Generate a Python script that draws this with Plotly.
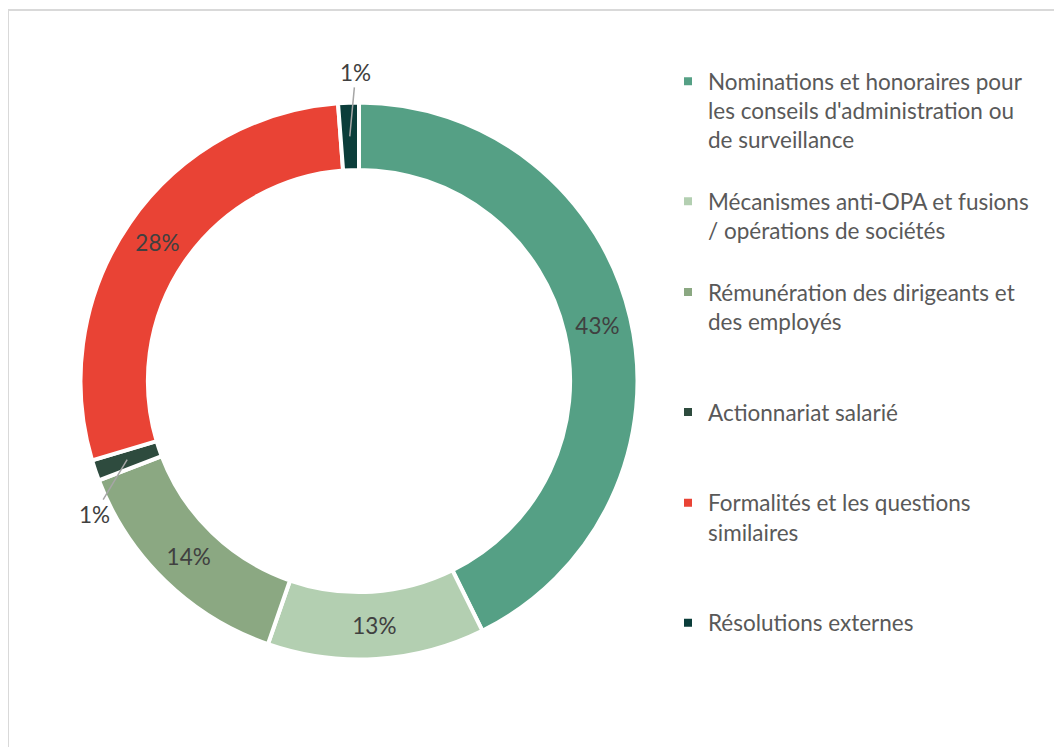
import math
import plotly.graph_objects as go

# ---- data ----
categories = [
    "Nominations et honoraires pour<br>les conseils d'administration ou<br>de surveillance",
    "Mécanismes anti-OPA et fusions<br>/ opérations de sociétés",
    "Rémunération des dirigeants et<br>des employés",
    "Actionnariat salarié",
    "Formalités et les questions<br>similaires",
    "Résolutions externes",
]
shares = [42.7, 12.6, 13.9, 1.2, 28.4, 1.2]
colors = ["#55A085", "#B3CFB1", "#8BA882", "#2E4B3E", "#E94335", "#0B3D3A"]
outside_label = [False, False, False, True, False, True]
label_offsets = {3: (-33, 55), 5: (6, -64)}  # pixel offsets of the outside labels

W, H = 1062, 747
CX, CY, R = 351, 373, 278.5
HOLE = 0.758
FONT = "Lato"
LEG_SIZE = 22.5
TXT_SIZE = 22.5
ENTRY_STEP = 109  # desired vertical distance between legend entries (px)

# pad legend labels so entries come out evenly spaced
lh = LEG_SIZE * 1.3
legend_labels = []
pos = 0.0
for i, c in enumerate(categories):
    n = c.count("<br>") + 1
    target = (i + 1) * ENTRY_STEP
    best_k = min(range(n, n + 4), key=lambda k: abs(pos + k * lh + 3 - target))
    pos += best_k * lh + 3
    legend_labels.append(c + "<br>\u00a0" * (best_k - n))

fig = go.Figure()
fig.add_trace(go.Pie(
    labels=legend_labels,
    values=shares,
    sort=False,
    direction="clockwise",
    rotation=0,
    hole=HOLE,
    marker=dict(colors=colors, line=dict(color="white", width=4)),
    texttemplate="%{percent:.0%}",
    textposition=["none" if o else "inside" for o in outside_label],
    insidetextorientation="horizontal",
    textfont=dict(family=FONT, size=TXT_SIZE, color="#404040"),
    domain=dict(x=[(CX - R) / W, (CX + R) / W], y=[1 - (CY + R) / H, 1 - (CY - R) / H]),
    hoverinfo="label+percent",
))

# outside labels with leader lines, anchored at mid-slice
total = sum(shares)
cum = 0
annotations = []
for i, v in enumerate(shares):
    mid = (cum + v / 2) / total * 2 * math.pi
    cum += v
    if not outside_label[i]:
        continue
    rm = R * (1 + HOLE) / 2
    px = CX + rm * math.sin(mid)
    py = CY - rm * math.cos(mid)
    ax, ay = label_offsets[i]
    annotations.append(dict(
        x=px / W, y=1 - py / H, xref="paper", yref="paper",
        text="%d%%" % round(v / total * 100),
        showarrow=True, arrowhead=0, arrowwidth=1.5, arrowcolor="#A6A6A6",
        ax=ax, ay=ay, standoff=0,
        font=dict(family=FONT, size=TXT_SIZE, color="#404040"),
    ))

fig.update_layout(
    width=W, height=H,
    margin=dict(l=0, r=0, t=0, b=0),
    paper_bgcolor="white",
    plot_bgcolor="white",
    showlegend=True,
    legend=dict(
        x=660 / W, y=1 - 52 / H, xanchor="left", yanchor="top",
        font=dict(family=FONT, size=LEG_SIZE, color="#595959"),
        valign="top",
        bgcolor="rgba(0,0,0,0)",
    ),
    annotations=annotations,
    shapes=[dict(
        type="rect", xref="paper", yref="paper",
        x0=0, y0=-0.02, x1=1.02, y1=1 - 2 / H,
        line=dict(color="#D9D9D9", width=2), fillcolor="rgba(0,0,0,0)",
        layer="below",
    )],
)

fig.write_html("out.html")
